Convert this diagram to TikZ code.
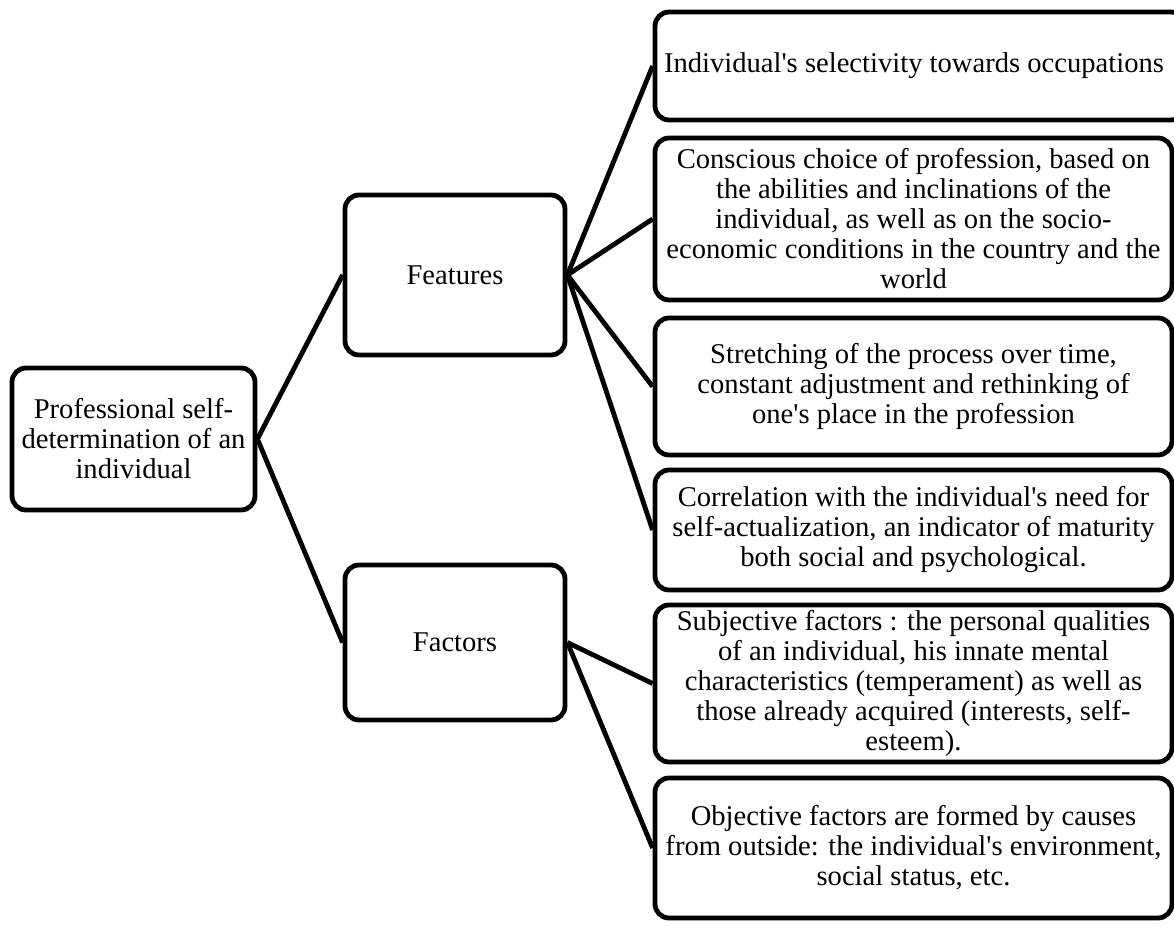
\documentclass[tikz,border=0pt]{standalone}
\usepackage{fontspec}
\setmainfont{Liberation Serif}
\tikzset{
    box/.style={draw, line width=2.4pt, rounded corners=7pt, align=center, inner sep=0pt},
    link/.style={line width=2.4pt}
}
\begin{document}
\begin{tikzpicture}[x=0.5pt, y=-0.5pt, font=\fontsize{14.3}{15}\selectfont]
    \useasboundingbox (0,0) rectangle (1174,927);
    % left part
    \node[box, minimum width=121.5pt, minimum height=71pt] (root) at (133.5,439)
        {Professional self-\\determination of an\\individual};
    \node[box, minimum width=110pt, minimum height=80pt] (feat) at (455,275) {Features};
    \node[box, minimum width=110pt, minimum height=77.5pt] (fact) at (455,642.5) {Factors};
    % right part
    \node[box, minimum width=265pt, minimum height=54pt] (b1) at (920,66)
        {Individual\textquotesingle s selectivity towards occupations\hspace{6pt}};
    \node[box, minimum width=258.5pt, minimum height=81pt] (b2) at (913.5,219)
        {Conscious choice of profession, based on\\the abilities and inclinations of the\\individual, as well as on the socio-\\economic conditions in the country and the\\world};
    \node[box, minimum width=258.5pt, minimum height=68.5pt] (b3) at (913.5,386.5)
        {Stretching of the process over time,\\constant adjustment and rethinking of\\one\textquotesingle s place in the profession};
    \node[box, minimum width=258.5pt, minimum height=60pt] (b4) at (913.5,530)
        {Correlation with the individual\textquotesingle s need for\\self-actualization, an indicator of maturity\\both social and psychological.};
    \node[box, minimum width=258.5pt, minimum height=78.5pt] (b5) at (913.5,683.5)
        {Subjective factors : the personal qualities\\of an individual, his innate mental\\characteristics (temperament) as well as\\those already acquired (interests, self-\\esteem).};
    \node[box, minimum width=258.5pt, minimum height=70pt] (b6) at (913.5,848)
        {Objective factors are formed by causes\\from outside: the individual\textquotesingle s environment,\\social status, etc.};
    % connectors
    \draw[link] (root.east) -- (feat.west);
    \draw[link] (root.east) -- (fact.west);
    \foreach \b in {b1,b2,b3,b4}
        \draw[link] (feat.east) -- (\b.west);
    \foreach \b in {b5,b6}
        \draw[link] (fact.east) -- (\b.west);
\end{tikzpicture}
\end{document}
